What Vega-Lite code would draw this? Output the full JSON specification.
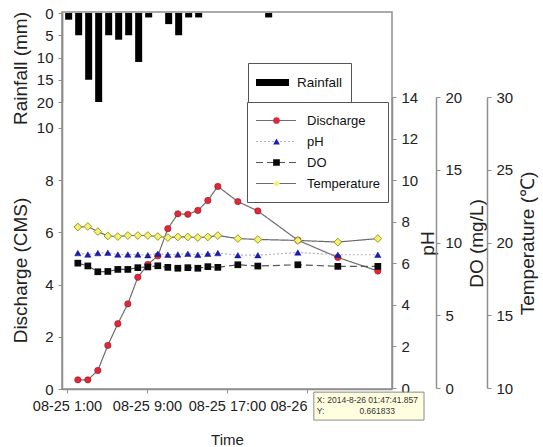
{
  "$schema": "https://vega.github.io/schema/vega-lite/v6.json",
  "width": 330,
  "height": 377,
  "autosize": {"type": "none"},
  "padding": {"left": 62, "top": 12, "right": 151, "bottom": 58},
  "background": "white",
  "datasets": {
    "rain": [
      {"t": "2014-08-25 01:10", "rain": 1.5},
      {"t": "2014-08-25 02:10", "rain": 5},
      {"t": "2014-08-25 03:10", "rain": 15},
      {"t": "2014-08-25 04:10", "rain": 20},
      {"t": "2014-08-25 05:10", "rain": 5},
      {"t": "2014-08-25 06:10", "rain": 6},
      {"t": "2014-08-25 07:10", "rain": 5},
      {"t": "2014-08-25 08:10", "rain": 11},
      {"t": "2014-08-25 09:10", "rain": 1},
      {"t": "2014-08-25 11:10", "rain": 2.5},
      {"t": "2014-08-25 12:10", "rain": 5},
      {"t": "2014-08-25 13:10", "rain": 1},
      {"t": "2014-08-25 14:10", "rain": 1},
      {"t": "2014-08-25 21:10", "rain": 1}
    ],
    "wq": [
      {"t": "2014-08-25 02:05", "discharge": 0.35, "ph": 6.49, "do": 8.58, "temp": 21.06},
      {"t": "2014-08-25 03:05", "discharge": 0.35, "ph": 6.42, "do": 8.39, "temp": 21.10},
      {"t": "2014-08-25 04:05", "discharge": 0.71, "ph": 6.49, "do": 7.99, "temp": 20.75},
      {"t": "2014-08-25 05:05", "discharge": 1.67, "ph": 6.51, "do": 8.01, "temp": 20.45},
      {"t": "2014-08-25 06:05", "discharge": 2.50, "ph": 6.42, "do": 8.15, "temp": 20.41},
      {"t": "2014-08-25 07:05", "discharge": 3.26, "ph": 6.42, "do": 8.15, "temp": 20.48},
      {"t": "2014-08-25 08:05", "discharge": 4.28, "ph": 6.42, "do": 8.27, "temp": 20.48},
      {"t": "2014-08-25 09:05", "discharge": 4.77, "ph": 6.39, "do": 8.32, "temp": 20.48},
      {"t": "2014-08-25 10:05", "discharge": 5.10, "ph": 6.46, "do": 8.40, "temp": 20.41},
      {"t": "2014-08-25 11:05", "discharge": 6.14, "ph": 6.41, "do": 8.29, "temp": 20.34},
      {"t": "2014-08-25 12:05", "discharge": 6.71, "ph": 6.42, "do": 8.23, "temp": 20.38},
      {"t": "2014-08-25 13:05", "discharge": 6.69, "ph": 6.46, "do": 8.27, "temp": 20.38},
      {"t": "2014-08-25 14:05", "discharge": 6.84, "ph": 6.41, "do": 8.23, "temp": 20.34},
      {"t": "2014-08-25 15:05", "discharge": 7.22, "ph": 6.46, "do": 8.34, "temp": 20.38},
      {"t": "2014-08-25 16:05", "discharge": 7.76, "ph": 6.49, "do": 8.29, "temp": 20.48},
      {"t": "2014-08-25 18:05", "discharge": 7.18, "ph": 6.39, "do": 8.47, "temp": 20.27},
      {"t": "2014-08-25 20:05", "discharge": 6.82, "ph": 6.39, "do": 8.38, "temp": 20.21},
      {"t": "2014-08-26 00:05", "discharge": 5.70, "ph": 6.52, "do": 8.47, "temp": 20.14},
      {"t": "2014-08-26 04:05", "discharge": 5.04, "ph": 6.41, "do": 8.36, "temp": 20.03},
      {"t": "2014-08-26 08:05", "discharge": 4.52, "ph": 6.41, "do": 8.36, "temp": 20.27}
    ],
    "tip": [
      {"t": "2014-08-26 01:41", "t2": "2014-08-26 12:42", "discharge": -0.12, "discharge2": -1.19}
    ],
    "tipL": [
      {"t": "2014-08-26 01:59", "discharge": -0.42, "label": "X: 2014-8-26 01:47:41.857"},
      {"t": "2014-08-26 01:59", "discharge": -0.84, "label": "Y:"}
    ],
    "tipC": [
      {"t": "2014-08-26 08:01", "discharge": -0.84, "label": "0.661833"}
    ]
  },
  "encoding": {
    "x": {
      "field": "t",
      "type": "temporal",
      "scale": {"domain": [{"year": 2014, "month": 8, "date": 25, "hours": 1}, {"year": 2014, "month": 8, "date": 26, "hours": 9}]},
      "axis": {
        "values": [
          {"year": 2014, "month": 8, "date": 25, "hours": 1},
          {"year": 2014, "month": 8, "date": 25, "hours": 9},
          {"year": 2014, "month": 8, "date": 25, "hours": 17},
          {"year": 2014, "month": 8, "date": 26, "hours": 1}
        ],
        "labelExpr": "datum.value > datetime(2014, 7, 25, 20) ? '08-26' : timeFormat(datum.value, '%m-%d %-H:%M')",
        "labelAlign": {"condition": {"test": "datum.value > datetime(2014, 7, 25, 20)", "value": "right"}, "value": "center"},
        "labelOverlap": false,
        "labelFlush": false,
        "labelFontSize": 14.5,
        "labelPadding": 6,
        "title": "Time",
        "titleFontSize": 15,
        "titleBaseline": "middle",
        "titleY": 50
      }
    }
  },
  "layer": [
    {
      "data": {"name": "rain"},
      "mark": {"type": "bar", "size": 7, "clip": true},
      "encoding": {
        "y": {
          "field": "rain", "type": "quantitative",
          "scale": {"domain": [0, 20], "range": [1, 90], "nice": false},
          "axis": {"orient": "left", "values": [0, 5, 10, 15, 20], "title": "Rainfall (mm)", "titleX": -42, "titleY": 56, "titleBaseline": "middle", "titleAngle": 270, "labelPadding": 5}
        },
        "color": {
          "datum": "Rainfall",
          "scale": {"range": ["#000000"]},
          "legend": {
            "orient": "none", "legendX": 186, "legendY": 51, "title": null,
            "symbolType": "M-1,-0.212H1V0.212H-1Z", "symbolSize": 1089, "symbolStrokeWidth": 0,
            "padding": 8, "clipHeight": 23, "labelOffset": 8,
            "labelFont": "Liberation Sans",
            "labelFontSize": 13.5, "labelColor": "#111", "strokeColor": "#555", "fillColor": "white"
          }
        }
      }
    },
    {
      "layer": [
        {
          "data": {"name": "wq"},
          "mark": {"type": "line", "strokeWidth": 1.2},
          "encoding": {
            "y": {
              "field": "discharge", "type": "quantitative",
              "scale": {"domain": [0, 14.44], "range": [377, 0], "nice": false},
              "axis": {"orient": "left", "values": [0, 2, 4, 6, 8, 10], "title": "Discharge (CMS)", "titleX": -42, "titleY": 258, "titleBaseline": "middle", "titleAngle": 270, "labelPadding": 5}
            },
            "stroke": {
              "datum": "Discharge",
              "scale": {"domain": ["Temperature", "DO", "pH", "Discharge"], "range": ["#6a6a6a", "#555555", "#b4b4c8", "#6e6e6e"]},
              "legend": {
                "orient": "none", "legendX": 185, "legendY": 90, "title": null,
                "values": ["Discharge", "pH", "DO", "Temperature"],
                "symbolType": "stroke", "symbolSize": 1600, "symbolStrokeWidth": 1.2,
                "padding": 8, "clipHeight": 21, "rowPadding": 0, "labelOffset": 10, "symbolOffset": 0,
                "labelFont": "Liberation Sans",
                "labelFontSize": 13, "labelColor": "#111", "strokeColor": "#555"
              }
            },
            "strokeDash": {
              "datum": "Discharge",
              "scale": {"domain": ["Temperature", "DO", "pH", "Discharge"], "range": [[1, 0], [7, 4], [2, 2], [1, 0]]}
            }
          }
        },
        {
          "data": {"name": "wq"},
          "mark": {"type": "point", "filled": true, "size": 40, "opacity": 1, "stroke": "#a01020", "strokeWidth": 0.6},
          "encoding": {
            "y": {"field": "discharge", "type": "quantitative", "scale": {"domain": [0, 14.44], "range": [377, 0], "nice": false}},
            "fill": {
              "datum": "Discharge",
              "scale": {"domain": ["Discharge", "pH", "DO", "Temperature"], "range": ["#dc2a3a", "#1c1cb4", "#0a0a0a", "#f2f27a"]},
              "legend": {
                "orient": "none", "legendX": 185, "legendY": 90, "title": null,
                "symbolSize": 45, "symbolStrokeWidth": 0, "symbolOpacity": 1,
                "padding": 8, "clipHeight": 21, "rowPadding": 0, "symbolOffset": 16.5,
                "labelExpr": "''"
              }
            },
            "shape": {
              "datum": "Discharge",
              "scale": {"domain": ["Discharge", "pH", "DO", "Temperature"], "range": ["circle", "triangle-up", "square", "diamond"]}
            }
          }
        },
        {
          "data": {"name": "tip"},
          "mark": {"type": "rect", "fill": "#ffffe0", "stroke": "#8a8a8a", "strokeWidth": 1},
          "encoding": {
            "x2": {"field": "t2"},
            "y": {"field": "discharge", "type": "quantitative", "scale": {"domain": [0, 14.44], "range": [377, 0], "nice": false}},
            "y2": {"field": "discharge2"}
          }
        },
        {
          "data": {"name": "tipL"},
          "mark": {"type": "text", "align": "left", "baseline": "middle", "font": "Liberation Sans", "fontSize": 8.5, "color": "#333"},
          "encoding": {
            "y": {"field": "discharge", "type": "quantitative", "scale": {"domain": [0, 14.44], "range": [377, 0], "nice": false}},
            "text": {"field": "label"}
          }
        },
        {
          "data": {"name": "tipC"},
          "mark": {"type": "text", "align": "center", "baseline": "middle", "font": "Liberation Sans", "fontSize": 8.5, "color": "#333"},
          "encoding": {
            "y": {"field": "discharge", "type": "quantitative", "scale": {"domain": [0, 14.44], "range": [377, 0], "nice": false}},
            "text": {"field": "label"}
          }
        }
      ]
    },
    {
      "data": {"name": "wq"},
      "layer": [
        {
          "mark": {"type": "line", "strokeWidth": 1.2},
          "encoding": {
            "y": {
              "field": "ph", "type": "quantitative",
              "scale": {"domain": [0, 14], "range": [376, 85], "nice": false},
              "axis": {"orient": "right", "offset": 0, "values": [0, 2, 4, 6, 8, 10, 12, 14], "title": "pH", "titleX": 35, "titleY": 231, "titleBaseline": "middle", "titleAngle": 270, "labelPadding": 5}
            },
            "stroke": {"datum": "pH", "scale": {"domain": ["Temperature", "DO", "pH", "Discharge"], "range": ["#6a6a6a", "#555555", "#b4b4c8", "#6e6e6e"]}},
            "strokeDash": {"datum": "pH", "scale": {"domain": ["Temperature", "DO", "pH", "Discharge"], "range": [[1, 0], [7, 4], [2, 2], [1, 0]]}}
          }
        },
        {
          "mark": {"type": "point", "filled": true, "size": 40, "opacity": 1, "stroke": "#14148a", "strokeWidth": 0.5},
          "encoding": {
            "y": {"field": "ph", "type": "quantitative", "scale": {"domain": [0, 14], "range": [376, 85], "nice": false}},
            "fill": {"datum": "pH", "scale": {"domain": ["Discharge", "pH", "DO", "Temperature"], "range": ["#dc2a3a", "#1c1cb4", "#0a0a0a", "#f2f27a"]}},
            "shape": {"datum": "pH", "scale": {"domain": ["Discharge", "pH", "DO", "Temperature"], "range": ["circle", "triangle-up", "square", "diamond"]}}
          }
        }
      ]
    },
    {
      "data": {"name": "wq"},
      "layer": [
        {
          "mark": {"type": "line", "strokeWidth": 1.2},
          "encoding": {
            "y": {
              "field": "do", "type": "quantitative",
              "scale": {"domain": [0, 20], "range": [376, 85], "nice": false},
              "axis": {"orient": "right", "offset": 44, "values": [0, 5, 10, 15, 20], "title": "DO (mg/L)", "titleX": 40, "titleY": 231, "titleBaseline": "middle", "titleAngle": 270, "labelPadding": 5}
            },
            "stroke": {"datum": "DO", "scale": {"domain": ["Temperature", "DO", "pH", "Discharge"], "range": ["#6a6a6a", "#555555", "#b4b4c8", "#6e6e6e"]}},
            "strokeDash": {"datum": "DO", "scale": {"domain": ["Temperature", "DO", "pH", "Discharge"], "range": [[1, 0], [7, 4], [2, 2], [1, 0]]}}
          }
        },
        {
          "mark": {"type": "point", "filled": true, "size": 45, "opacity": 1},
          "encoding": {
            "y": {"field": "do", "type": "quantitative", "scale": {"domain": [0, 20], "range": [376, 85], "nice": false}},
            "fill": {"datum": "DO", "scale": {"domain": ["Discharge", "pH", "DO", "Temperature"], "range": ["#dc2a3a", "#1c1cb4", "#0a0a0a", "#f2f27a"]}},
            "shape": {"datum": "DO", "scale": {"domain": ["Discharge", "pH", "DO", "Temperature"], "range": ["circle", "triangle-up", "square", "diamond"]}}
          }
        }
      ]
    },
    {
      "data": {"name": "wq"},
      "layer": [
        {
          "mark": {"type": "line", "strokeWidth": 1.2},
          "encoding": {
            "y": {
              "field": "temp", "type": "quantitative",
              "scale": {"domain": [10, 30], "range": [376, 85], "nice": false, "zero": false},
              "axis": {"orient": "right", "offset": 95, "values": [10, 15, 20, 25, 30], "title": "Temperature (℃)", "titleX": 40, "titleY": 231, "titleBaseline": "middle", "titleAngle": 270, "labelPadding": 5}
            },
            "stroke": {"datum": "Temperature", "scale": {"domain": ["Temperature", "DO", "pH", "Discharge"], "range": ["#6a6a6a", "#555555", "#b4b4c8", "#6e6e6e"]}},
            "strokeDash": {"datum": "Temperature", "scale": {"domain": ["Temperature", "DO", "pH", "Discharge"], "range": [[1, 0], [7, 4], [2, 2], [1, 0]]}}
          }
        },
        {
          "mark": {"type": "point", "filled": true, "size": 60, "opacity": 1, "stroke": "#9a9a10", "strokeWidth": 1},
          "encoding": {
            "y": {"field": "temp", "type": "quantitative", "scale": {"domain": [10, 30], "range": [376, 85], "nice": false, "zero": false}},
            "fill": {"datum": "Temperature", "scale": {"domain": ["Discharge", "pH", "DO", "Temperature"], "range": ["#dc2a3a", "#1c1cb4", "#0a0a0a", "#f2f27a"]}},
            "shape": {"datum": "Temperature", "scale": {"domain": ["Discharge", "pH", "DO", "Temperature"], "range": ["circle", "triangle-up", "square", "diamond"]}}
          }
        }
      ]
    }
  ],
  "resolve": {"scale": {"y": "independent"}, "axis": {"y": "independent"}},
  "config": {
    "view": {"stroke": "#8f8f8f", "strokeWidth": 1.5},
    "axis": {
      "grid": false,
      "domainColor": "#8f8f8f",
      "domainWidth": 1.5,
      "tickColor": "#8f8f8f",
      "tickSize": 4,
      "labelFont": "Liberation Sans",
      "labelFontSize": 15,
      "labelColor": "#222",
      "titleFont": "Liberation Sans",
      "titleFontSize": 19,
      "titleFontWeight": "normal",
      "titleColor": "#222"
    }
  }
}
